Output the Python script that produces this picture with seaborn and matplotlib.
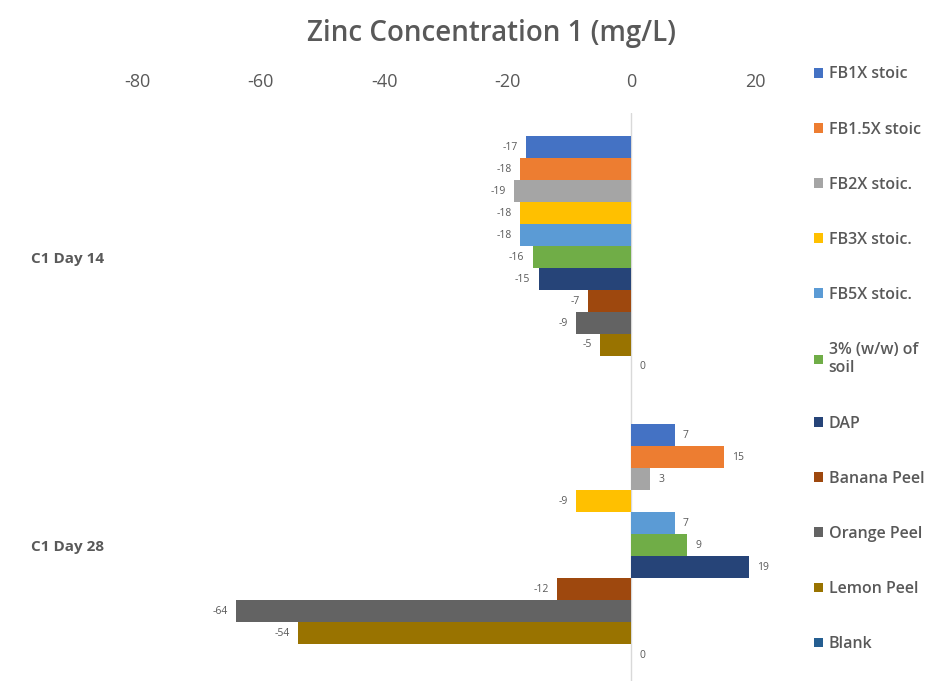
import numpy as np
import pandas as pd
import matplotlib
matplotlib.use("Agg")
import matplotlib.pyplot as plt
import seaborn as sns

days = ["C1 Day 14", "C1 Day 28"]
series = ["FB1X stoic", "FB1.5X stoic", "FB2X stoic.", "FB3X stoic.", "FB5X stoic.",
          "3% (w/w) of\nsoil", "DAP", "Banana Peel", "Orange Peel", "Lemon Peel", "Blank"]
day14 = [-17, -18, -19, -18, -18, -16, -15, -7, -9, -5, 0]
day28 = [7, 15, 3, -9, 7, 9, 19, -12, -64, -54, 0]
colors = ["#4472C4", "#ED7D31", "#A5A5A5", "#FFC000", "#5B9BD5", "#70AD47",
          "#264478", "#9E480E", "#636363", "#997300", "#255E91"]

df = pd.DataFrame({
    "day": [days[0]] * len(series) + [days[1]] * len(series),
    "series": series + series,
    "value": day14 + day28,
})

sns.set_style("white")
plt.rcParams['font.family'] = ['Open Sans', 'DejaVu Sans']
plt.rcParams['axes.unicode_minus'] = False
grey = "#595959"

fig = plt.figure(figsize=(9.28, 6.81), dpi=100)
ax = fig.add_axes([137 / 928, 0.0, 618 / 928, 568 / 681])

sns.barplot(data=df, y="day", x="value", hue="series", hue_order=series,
            palette=colors, saturation=1, orient="h", width=0.84, linewidth=0,
            ax=ax, errorbar=None)

for c in ax.containers:
    ax.bar_label(c, fmt="%d", padding=6, fontsize=7.5, color=grey)

ax.set_xlim(-80, 20)
ax.set_ylim(1.472, -0.5)
ax.set_xticks([-80, -60, -40, -20, 0, 20])
ax.xaxis.tick_top()
ax.tick_params(axis="x", length=0, pad=16, labelsize=13, labelcolor=grey)
ax.tick_params(axis="y", length=0, pad=24, labelsize=11, labelcolor=grey)
for t in ax.get_yticklabels():
    t.set_fontweight("bold")
ax.set_xlabel("")
ax.set_ylabel("")
for s in ax.spines.values():
    s.set_visible(False)
ax.axvline(0, color="#d9d9d9", lw=1, zorder=0)

handles, labels = ax.get_legend_handles_labels()
ax.get_legend().remove()
leg = fig.legend(handles, labels, loc="upper left", bbox_to_anchor=(800 / 928, 1 - 52 / 681),
                 frameon=False, fontsize=11.5, labelspacing=2.45, handlelength=0.55,
                 handleheight=0.55, handletextpad=0.35, labelcolor=grey)
for t in leg.get_texts():
    t.set_fontweight("semibold")

fig.text(492 / 928, 1 - 33 / 681, "Zinc Concentration 1 (mg/L)", ha="center", va="center",
         fontsize=20, fontweight="semibold", color=grey)

fig.savefig("out.png", dpi=100)
